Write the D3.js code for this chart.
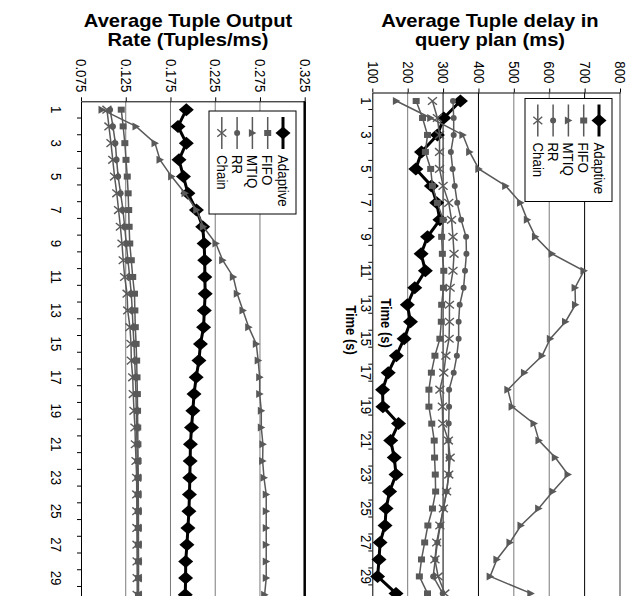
<!DOCTYPE html>
<html>
<head>
<meta charset="utf-8">
<script src="https://cdn.jsdelivr.net/npm/d3@7"></script>
<style>
  body { margin: 0; background: #fff; }
  text { font-family: "Liberation Sans", Arial, sans-serif; }
</style>
</head>
<body>
<div id="chart"></div>
<script>
// time steps (x categories of the original chart, drawn top to bottom here)
var times = [1, 2, 3, 4, 5, 6, 7, 8, 9, 10, 11, 12, 13, 14, 15,
             16, 17, 18, 19, 20, 21, 22, 23, 24, 25, 26, 27, 28, 29, 30]
var timeLabels = [1, 3, 5, 7, 9, 11, 13, 15, 17, 19, 21, 23, 25, 27, 29]
var seriesNames = ["Adaptive", "FIFO", "MTIQ", "RR", "Chain"]

// left chart: Average Tuple Output Rate (Tuples/ms)
var rateTicks = [0.075, 0.125, 0.175, 0.225, 0.275, 0.325]
var rateAdaptive = [0.1927, 0.1834, 0.1927, 0.1845, 0.1895, 0.1945, 0.2040, 0.2110, 0.2126, 0.2133,
                    0.2134, 0.2138, 0.2128, 0.2120, 0.2085, 0.2068, 0.2037, 0.2013, 0.2000, 0.1985,
                    0.1973, 0.1970, 0.1966, 0.1962, 0.1956, 0.1945, 0.1934, 0.1920, 0.1919, 0.1915]
var rateFIFO = [0.1200, 0.1221, 0.1240, 0.1253, 0.1267, 0.1277, 0.1283, 0.1288, 0.1295, 0.1312,
                0.1328, 0.1348, 0.1352, 0.1357, 0.1366, 0.1372, 0.1376, 0.1380, 0.1382, 0.1384,
                0.1386, 0.1388, 0.1390, 0.1390, 0.1392, 0.1392, 0.1392, 0.1393, 0.1393, 0.1393]
var rateMTIQ = [0.0985, 0.1365, 0.1577, 0.1633, 0.1763, 0.1912, 0.2043, 0.2117, 0.2258, 0.2333,
                0.2452, 0.2496, 0.2560, 0.2624, 0.2709, 0.2730, 0.2747, 0.2747, 0.2765, 0.2765,
                0.2783, 0.2780, 0.2795, 0.2820, 0.2820, 0.2820, 0.2820, 0.2820, 0.2820, 0.2802]
var rateRR = [0.1075, 0.1107, 0.1134, 0.1148, 0.1165, 0.1193, 0.1219, 0.1238, 0.1256, 0.1275,
              0.1294, 0.1312, 0.1323, 0.1331, 0.1342, 0.1350, 0.1358, 0.1364, 0.1368, 0.1372,
              0.1375, 0.1378, 0.1380, 0.1382, 0.1383, 0.1384, 0.1385, 0.1386, 0.1386, 0.1386]
var rateChain = [0.1040, 0.1062, 0.1085, 0.1105, 0.1125, 0.1150, 0.1170, 0.1190, 0.1208, 0.1222,
                 0.1238, 0.1265, 0.1272, 0.1297, 0.1309, 0.1312, 0.1328, 0.1334, 0.1342, 0.1353,
                 0.1358, 0.1365, 0.1372, 0.1373, 0.1374, 0.1375, 0.1376, 0.1377, 0.1378, 0.1378]

// right chart: Average Tuple delay in query plan (ms)
var delayTicks = [100, 200, 300, 400, 500, 600, 700, 800]
var delayAdaptive = [349, 302, 284, 239, 223, 267, 282, 291, 256, 238, 250, 220, 199, 208, 190,
                     168, 145, 129, 130, 174, 152, 162, 167, 149, 139, 136, 122, 119, 115, 167]
var delayFIFO = [224, 242, 256, 250, 265, 270, 284, 300, 296, 298, 302, 301, 296, 295, 291,
                 277, 267, 260, 260, 268, 275, 276, 278, 279, 270, 257, 248, 239, 233, 256]
var delayMTIQ = [168, 265, 356, 375, 401, 477, 519, 538, 561, 608, 698, 673, 674, 646, 603,
                 580, 530, 483, 495, 557, 571, 617, 653, 610, 570, 520, 489, 452, 433, 548]
var delayRR = [328, 330, 330, 322, 327, 333, 340, 351, 365, 366, 362, 358, 347, 344, 344,
               339, 330, 317, 317, 316, 315, 316, 316, 310, 301, 292, 284, 278, 272, 299]
var delayChain = [270, 284, 290, 290, 290, 300, 316, 324, 328, 331, 328, 320, 318, 318, 317,
                  308, 302, 291, 298, 299, 315, 320, 316, 310, 301, 291, 282, 277, 286, 305]

var svg = d3.select('#chart').append('svg')
    .attr('width', 634)
    .attr('height', 596)
    .style('display', 'block')

// the scan is a bit wider than tall, so text gets stretched sideways
var SX = 1.12
var grey = "#595959"

//------------------------------------------------------
// marker shapes
//------------------------------------------------------
function addMarker(sel, name) {
    if (name == "Adaptive") {
        sel.append("path").attr("d", "M0,-6.5L7.5,0L0,6.5L-7.5,0Z").style("fill", "#000")
    } else if (name == "FIFO") {
        sel.append("rect").attr("x", -3.5).attr("y", -3).attr("width", 7).attr("height", 6).style("fill", grey)
    } else if (name == "MTIQ") {
        sel.append("path").attr("d", "M-3.5,-4L4,0L-3.5,4Z").style("fill", grey)
    } else if (name == "RR") {
        sel.append("circle").attr("r", 3).style("fill", grey)
    } else {
        sel.append("path").attr("d", "M-4.5,-3.8L4.5,3.8M-4.5,3.8L4.5,-3.8")
            .style("stroke", grey).style("stroke-width", 1.4).style("fill", "none")
    }
}

function drawPanel(p) {
    var x = d3.scaleLinear().domain(p.domain).range([p.left, p.right])
    var y = d3.scaleBand().domain(times).range([p.top, p.top + times.length * p.step])
    var cy = function (t) { return y(t) + y.bandwidth() / 2 }

    var g = svg.append('g')

    // gridlines
    g.selectAll('.grid')
        .data(p.ticks.slice(1))
        .enter()
        .append('line')
        .attr('x1', d => x(d)).attr('x2', d => x(d))
        .attr('y1', p.top).attr('y2', 600)
        .style('stroke', d => p.darkGrid.indexOf(d) >= 0 ? '#000' : '#7a7a7a')
        .style('stroke-width', d => d == p.ticks[p.ticks.length - 1] ? p.edgeWidth : 1)

    // value axis on top
    var top = g.append('g')
        .attr('transform', 'translate(0,' + p.top + ')')
        .call(d3.axisTop(x).tickValues(p.ticks).tickSize(4).tickSizeOuter(0).tickFormat(p.format))
    top.select('.domain').style('stroke', '#000')
    top.selectAll('.tick line').style('stroke', '#000')
    top.selectAll('.tick text')
        .attr('y', null).attr('dy', null)
        .attr('transform', 'translate(0,-9) scale(' + SX + ',1) rotate(90)')
        .attr('text-anchor', 'end')
        .attr('dominant-baseline', 'central')
        .style('font-size', '13.3px')
        .style('fill', '#000')

    // time axis on the left
    var side = g.append('g')
        .attr('transform', 'translate(' + p.left + ',0)')
        .call(d3.axisLeft(y).tickValues(timeLabels).tickSize(0).tickSizeOuter(0))
    side.select('.domain').style('stroke', '#000')
    side.selectAll('.tick text')
        .attr('x', null).attr('dy', null)
        .attr('transform', 'translate(' + (-p.labelGap) + ',0) scale(' + SX + ',1) rotate(90)')
        .attr('text-anchor', 'middle')
        .attr('dominant-baseline', 'central')
        .style('font-size', '13.3px')
        .style('fill', '#000')

    g.selectAll('.tmark')
        .data(times)
        .enter()
        .append('line')
        .attr('x1', p.left - 4).attr('x2', p.left)
        .attr('y1', d => y(d) + y.bandwidth()).attr('y2', d => y(d) + y.bandwidth())
        .style('stroke', '#000')

    // series
    var line = d3.line()
        .x(d => x(d.v))
        .y(d => cy(d.t))

    p.series.forEach(function (vals, i) {
        var name = seriesNames[i]
        var pts = times.map((t, j) => ({ t: t, v: vals[j] }))
        g.append('path')
            .datum(pts)
            .attr('d', line)
            .style('fill', 'none')
            .style('stroke', name == "Adaptive" ? '#000' : grey)
            .style('stroke-width', name == "Adaptive" ? 3 : 1.5)
        g.selectAll('.m' + i)
            .data(pts)
            .enter()
            .append('g')
            .attr('transform', d => 'translate(' + x(d.v) + ',' + cy(d.t) + ')')
            .each(function () { addMarker(d3.select(this), name) })
    })

    // title, horizontal above the chart
    p.title.forEach(function (s, i) {
        svg.append('text')
            .attr('transform', 'translate(' + p.titleX + ',' + (26.5 + i * 19.5) + ') scale(' + SX + ',1)')
            .attr('text-anchor', 'middle')
            .style('font-size', '18px')
            .style('font-weight', 'bold')
            .text(s)
    })

    svg.append('text')
        .attr('transform', 'translate(' + p.timeX + ',' + p.timeY + ') scale(' + SX + ',1) rotate(90)')
        .attr('text-anchor', 'middle')
        .attr('dominant-baseline', 'central')
        .style('font-size', '13px')
        .style('font-weight', 'bold')
        .text("Time (s)")

    // legend
    var lg = svg.append('g').attr('transform', 'translate(' + p.legend[0] + ',' + p.legend[1] + ')')
    lg.append('rect')
        .attr('width', 87).attr('height', 103)
        .style('fill', '#fff').style('stroke', '#000').style('stroke-width', 1)
    seriesNames.forEach(function (name, i) {
        var lx = 74 - i * 15.3
        lg.append('line')
            .attr('x1', lx).attr('x2', lx).attr('y1', 6).attr('y2', 38)
            .style('stroke', name == "Adaptive" ? '#000' : grey)
            .style('stroke-width', name == "Adaptive" ? 3 : 1.5)
        addMarker(lg.append('g').attr('transform', 'translate(' + lx + ',22)'), name)
        lg.append('text')
            .attr('transform', 'translate(' + lx + ',44) scale(' + SX + ',1) rotate(90)')
            .attr('dominant-baseline', 'central')
            .style('font-size', '13.3px')
            .text(name)
    })
}

drawPanel({
    domain: [0.075, 0.325], ticks: rateTicks, format: d3.format('.3f'),
    left: 81, right: 304.7, top: 101.3, step: 16.73, labelGap: 25,
    darkGrid: [0.325], edgeWidth: 2.5,
    series: [rateAdaptive, rateFIFO, rateMTIQ, rateRR, rateChain],
    title: ["Average Tuple Output", "Rate (Tuples/ms)"], titleX: 188,
    timeX: 351, timeY: 330, legend: [209, 111]
})

drawPanel({
    domain: [100, 800], ticks: delayTicks, format: d3.format('d'),
    left: 372.3, right: 620, top: 92.5, step: 16.98, labelGap: 6.5,
    darkGrid: [300, 400, 700], edgeWidth: 1.5,
    series: [delayAdaptive, delayFIFO, delayMTIQ, delayRR, delayChain],
    title: ["Average Tuple delay in", "query plan (ms)"], titleX: 490,
    timeX: 386, timeY: 323, legend: [525, 98.5]
})
</script>
</body>
</html>
